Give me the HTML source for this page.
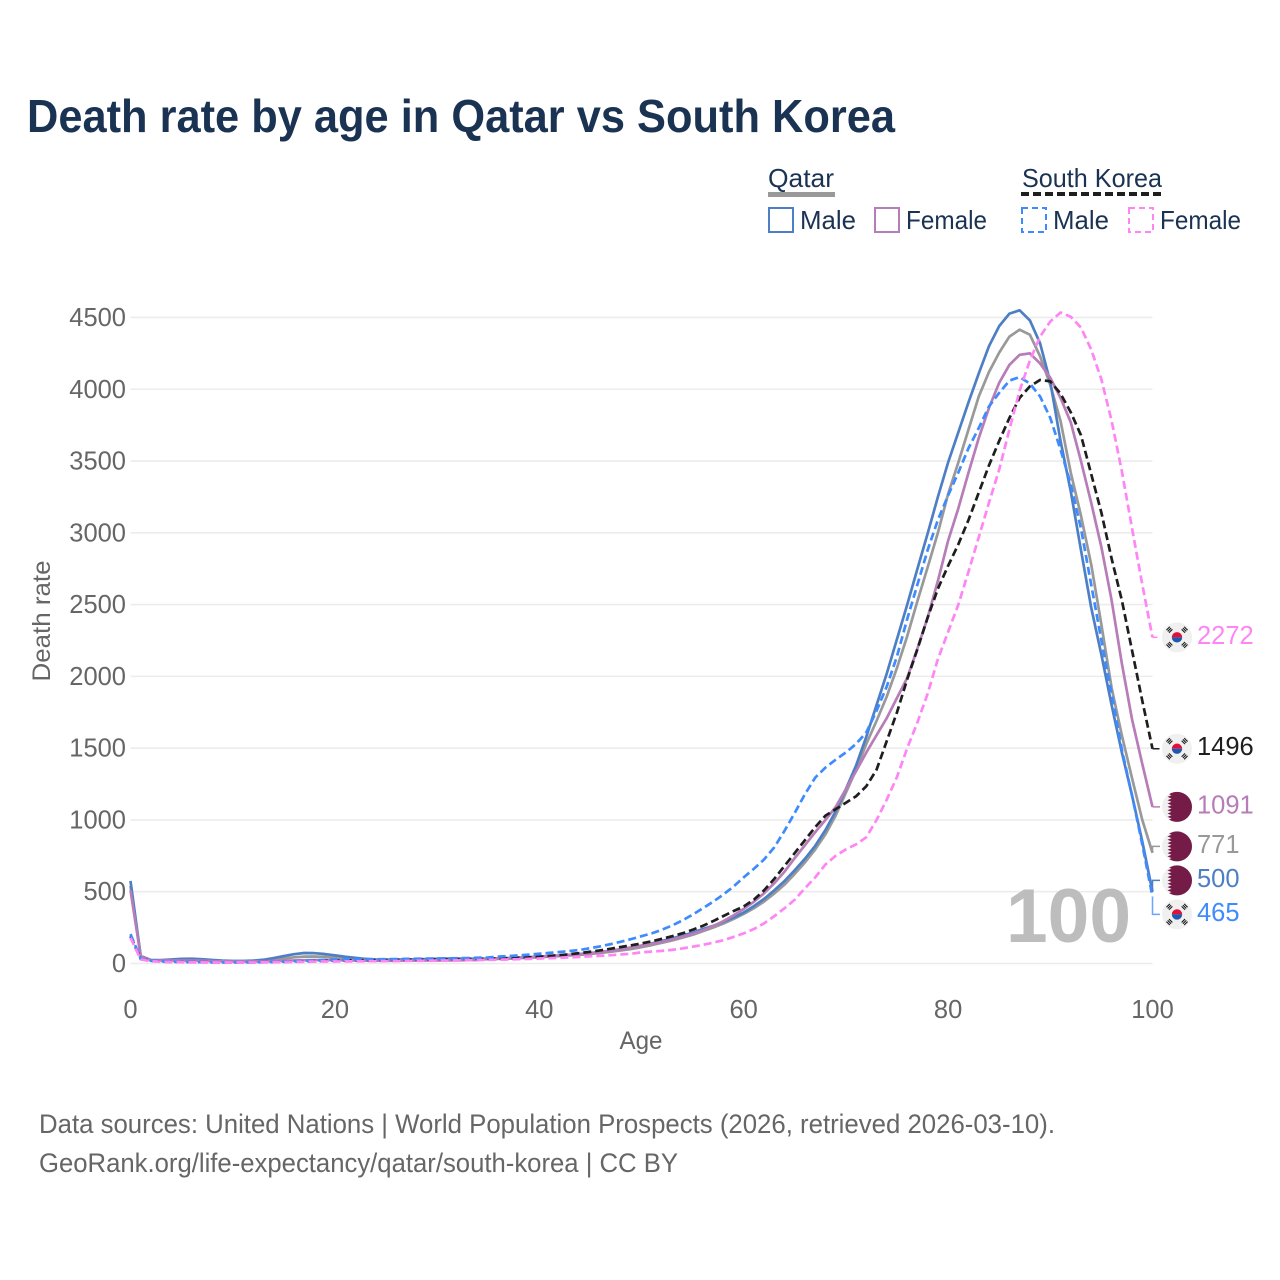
<!DOCTYPE html>
<html>
<head>
<meta charset="utf-8">
<title>Death rate by age in Qatar vs South Korea</title>
<style>
html,body{margin:0;padding:0;background:#fff;}
svg{display:block;}
text{font-family:"Liberation Sans",sans-serif;}
</style>
</head>
<body>
<svg id="chart" width="1280" height="1280" viewBox="0 0 1280 1280" xmlns="http://www.w3.org/2000/svg">
  <text x="27" y="132" font-size="46" font-weight="700" fill="#1b3353" textLength="868" lengthAdjust="spacingAndGlyphs">Death rate by age in Qatar vs South Korea</text>

  <g fill="#1b3353" font-size="26">
    <text x="768" y="187" textLength="66" lengthAdjust="spacingAndGlyphs">Qatar</text>
    <rect x="768" y="192" width="67" height="5" fill="#999999"/>
    <text x="1022" y="187" textLength="140" lengthAdjust="spacingAndGlyphs">South Korea</text>
    <line x1="1021" y1="194" x2="1162" y2="194" stroke="#1e1e1e" stroke-width="4" stroke-dasharray="8 4"/>
    <rect x="769" y="208" width="24" height="24" fill="none" stroke="#4e7fc4" stroke-width="2"/>
    <text x="800" y="229" textLength="56" lengthAdjust="spacingAndGlyphs">Male</text>
    <rect x="875" y="208" width="24" height="24" fill="none" stroke="#b77db8" stroke-width="2"/>
    <text x="906" y="229" textLength="81" lengthAdjust="spacingAndGlyphs">Female</text>
    <rect x="1022" y="208" width="24" height="24" fill="none" stroke="#3e8bff" stroke-width="2" stroke-dasharray="6 4"/>
    <text x="1053" y="229" textLength="56" lengthAdjust="spacingAndGlyphs">Male</text>
    <rect x="1129" y="208" width="24" height="24" fill="none" stroke="#ff85f5" stroke-width="2" stroke-dasharray="6 4"/>
    <text x="1160" y="229" textLength="81" lengthAdjust="spacingAndGlyphs">Female</text>
  </g>

  <g id="grid"></g>
  <g id="yticks"></g>
  <g id="xticks"></g>

  <text x="641" y="1049" font-size="25" fill="#666666" text-anchor="middle" textLength="43" lengthAdjust="spacingAndGlyphs">Age</text>
  <text transform="translate(50 621) rotate(-90)" font-size="25" fill="#666666" text-anchor="middle" textLength="121" lengthAdjust="spacingAndGlyphs">Death rate</text>

  <text id="year" x="1131" y="942" font-size="76" font-weight="700" fill="#bdbdbd" text-anchor="end" textLength="125" lengthAdjust="spacingAndGlyphs">100</text>

  <g id="series"></g>
  <g id="endlabels"></g>

  <g fill="#666666" font-size="27">
    <text x="39" y="1133" textLength="1016" lengthAdjust="spacingAndGlyphs">Data sources: United Nations | World Population Prospects (2026, retrieved 2026-03-10).</text>
    <text x="39" y="1172" textLength="639" lengthAdjust="spacingAndGlyphs">GeoRank.org/life-expectancy/qatar/south-korea | CC BY</text>
  </g>
</svg>

<script>
var yTickValues = [0, 500, 1000, 1500, 2000, 2500, 3000, 3500, 4000, 4500];
var xTickValues = [0, 20, 40, 60, 80, 100];

var qatarTotal = [540,50,23,22,24,26,26,24,21,18,16,16,17,20,27,35,43,48,49,46,41,36,30,27,24,23,23,24,25,26,27,28,28,28,29,30,32,34,37,40,44,
48,52,56,61,67,74,82,91,101,114,128,144,161,180,200,225,250,278,310,345,385,432,488,550,625,705,795,900,1030,
1190,1350,1530,1690,1860,2060,2280,2525,2760,3000,3270,3490,3720,3950,4120,4255,4367,4415,4380,4230,4030,3780,3420,3120,2780,2360,1920,1590,1290,1000,771];

var qatarMale = [575,52,24,24,28,32,33,30,25,20,18,18,20,26,38,52,65,73,72,66,57,47,39,32,28,27,27,28,30,31,33,34,34,33,33,34,36,38,41,44,48,
52,55,60,66,73,80,90,100,112,125,140,157,175,195,215,240,262,290,320,355,400,450,510,575,650,730,820,930,1060,
1215,1380,1580,1800,2020,2260,2500,2750,2995,3250,3490,3700,3910,4110,4300,4440,4527,4550,4480,4320,4050,3640,3290,2880,2480,2150,1800,1470,1170,850,500];

var qatarFemale = [510,48,22,20,20,20,20,19,17,15,14,14,14,15,17,19,21,23,24,24,23,22,21,20,19,19,19,20,20,21,21,22,22,23,24,33,35,37,40,44,48,
52,56,60,66,72,80,89,99,111,125,137,150,167,186,206,230,260,295,335,380,430,490,560,640,735,825,915,1000,1090,
1215,1340,1470,1590,1710,1850,1990,2195,2410,2665,2945,3170,3420,3660,3870,4045,4170,4240,4250,4180,4080,3940,3770,3500,3210,2900,2530,2090,1700,1390,1091];

var koreaTotal = [190,32,18,14,11,10,9,9,8,8,8,8,8,9,10,11,13,15,17,19,20,21,22,22,23,24,25,26,26,27,28,29,30,31,32,33,35,37,40,43,47,
52,58,65,73,82,92,103,115,127,140,155,172,190,210,235,262,295,330,365,397,445,510,590,680,770,860,950,1030,1075,
1120,1165,1235,1350,1550,1750,1980,2190,2410,2610,2770,2920,3090,3280,3470,3640,3800,3940,4020,4065,4055,3970,3840,3680,3410,3140,2820,2530,2180,1830,1496];

var koreaMale = [205,33,19,15,12,11,10,9,9,8,8,8,9,10,11,13,16,19,22,24,26,27,28,29,30,30,31,32,33,34,35,36,37,38,40,42,48,52,56,62,68,
74,80,87,95,107,120,135,152,170,190,210,235,265,300,340,385,430,480,536,600,660,725,810,925,1050,1180,1295,1365,1420,
1470,1530,1610,1760,1930,2140,2400,2640,2880,3090,3260,3420,3590,3730,3880,3975,4060,4085,4040,3950,3800,3580,3340,3030,2640,2250,1880,1490,1170,830,465];

var koreaFemale = [180,28,16,12,10,9,8,8,7,7,7,7,7,8,9,10,11,12,13,14,14,15,15,16,16,17,17,18,19,19,20,21,22,23,24,25,27,28,30,32,35,
37,40,43,46,50,54,58,63,68,78,83,88,95,105,117,130,145,162,185,210,240,280,330,385,445,525,600,690,750,
795,830,880,1000,1142,1300,1500,1680,1880,2120,2310,2500,2730,2970,3210,3440,3720,3990,4200,4367,4472,4535,4505,4430,4277,4068,3780,3430,3030,2640,2272];

var seriesOrder = [
  {name:'qatar-total',       values:qatarTotal,  color:'#999999', dash:null,  label:'#999999', flag:'qatar', lead:'#999999'},
  {name:'qatar-male',        values:qatarMale,   color:'#4e7fc4', dash:null,  label:'#4e7fc4', flag:'qatar', lead:'#4e7fc4'},
  {name:'qatar-female',      values:qatarFemale, color:'#b77db8', dash:null,  label:'#b77db8', flag:'qatar', lead:'#b77db8'},
  {name:'south-korea-total', values:koreaTotal,  color:'#1e1e1e', dash:'8 4', label:'#1e1e1e', flag:'korea', lead:'#1e1e1e'},
  {name:'south-korea-male',  values:koreaMale,   color:'#3e8bff', dash:'8 4', label:'#3e8bff', flag:'korea', lead:'#6aa5ff'},
  {name:'south-korea-female',values:koreaFemale, color:'#ff85f5', dash:'8 4', label:'#ff85f5', flag:'korea', lead:'#ff85f5'}
];

var NS = 'http://www.w3.org/2000/svg';
function make(tag, attrs, parent) {
  var el = document.createElementNS(NS, tag);
  for (var k in attrs) el.setAttribute(k, attrs[k]);
  parent.appendChild(el);
  return el;
}
function xScale(age) { return 130.5 + age * 10.22; }
function yScale(v) { return 963.5 - v * 0.14356; }

var grid = document.getElementById('grid');
var yticks = document.getElementById('yticks');
var xticks = document.getElementById('xticks');
yTickValues.forEach(function (v) {
  var line = make('line', {x1: xScale(0), x2: xScale(100), y1: yScale(v), y2: yScale(v), stroke: '#ececec', 'stroke-width': 1.6}, grid);
  
  
  var t = make('text', {x: 126, y: yScale(v) + 8.5, 'text-anchor': 'end', 'font-size': 25.5, fill: '#666666'}, yticks);
  t.textContent = v;
  
  
});
xTickValues.forEach(function (v) {
  var t = make('text', {x: xScale(v), y: 1018, 'text-anchor': 'middle', 'font-size': 25.5, fill: '#666666'}, xticks);
  t.textContent = v;
  
  
});

var seriesGroup = document.getElementById('series');
seriesOrder.forEach(function (s) {
  var d = s.values.map(function (v, i) {
    return (i ? 'L' : 'M') + xScale(i).toFixed(2) + ' ' + yScale(v).toFixed(2);
  }).join('');
  var attrs = {d: d, fill: 'none', stroke: s.color, 'stroke-width': 2.7, 'stroke-linejoin': 'round'};
  if (s.dash) attrs['stroke-dasharray'] = s.dash;
  var p = make('path', attrs, seriesGroup);
  
  
});

/* end labels: dodge overlapping labels by merging clusters around their mean */
var MIN_GAP = 34;
var ends = seriesOrder.map(function (s) {
  var v = s.values[s.values.length - 1];
  return {s: s, v: v, y: yScale(v)};
}).sort(function (a, b) { return a.y - b.y; });
var clusters = ends.map(function (e) { return {items: [e], sum: e.y}; });
var merged = true;
while (merged) {
  merged = false;
  for (var i = 0; i < clusters.length - 1; i++) {
    var a = clusters[i], b = clusters[i + 1];
    var aMean = a.sum / a.items.length, bMean = b.sum / b.items.length;
    var aBottom = aMean + (a.items.length - 1) * MIN_GAP / 2;
    var bTop = bMean - (b.items.length - 1) * MIN_GAP / 2;
    if (bTop - aBottom < MIN_GAP) {
      clusters.splice(i, 2, {items: a.items.concat(b.items), sum: a.sum + b.sum});
      merged = true;
      break;
    }
  }
}
clusters.forEach(function (c) {
  var mean = c.sum / c.items.length;
  c.items.forEach(function (e, i) {
    e.ly = mean + (i - (c.items.length - 1) / 2) * MIN_GAP;
  });
});

var labels = document.getElementById('endlabels');
var defs = make('defs', {}, labels);
ends.forEach(function (e, idx) {
  var cx = 1177, cy = e.ly, x0 = xScale(100);
  var g = make('g', {}, labels);
  
  

  var leadAttrs = {d: 'M' + x0 + ' ' + e.y + 'L' + x0 + ' ' + cy + 'L1160 ' + cy, fill: 'none', stroke: e.s.lead, 'stroke-width': 1.5};
  if (e.s.dash && e.s.name !== 'south-korea-male') leadAttrs['stroke-dasharray'] = e.s.name === 'south-korea-total' ? '7 2' : '5 3';
  var lead = make('path', leadAttrs, g);
  
  

  var flag = make('g', {}, g);
  
  
  make('circle', {cx: cx, cy: cy, r: 15, fill: '#f0f0f0'}, flag);

  if (e.s.flag === 'qatar') {
    var clipId = 'clip-' + idx;
    var clip = make('clipPath', {id: clipId}, defs);
    make('circle', {cx: cx, cy: cy, r: 15}, clip);
    var pts = [[cx + 16, cy - 16], [cx - 6, cy - 16]];
    for (var t = 0; t < 9; t++) {
      var top = cy - 15 + t * 30 / 9;
      pts.push([cx - 9.5, top + 30 / 18]);
      pts.push([cx - 5.5, top + 30 / 9]);
    }
    pts.push([cx - 6, cy + 16], [cx + 16, cy + 16]);
    make('polygon', {points: pts.map(function (q) { return q[0].toFixed(1) + ',' + q[1].toFixed(1); }).join(' '), fill: '#741b47', 'clip-path': 'url(#' + clipId + ')'}, flag);
  } else {
    make('path', {d: 'M' + (cx - 5.2) + ' ' + cy + 'A5.2 5.2 0 0 1 ' + (cx + 5.2) + ' ' + cy + 'Z', fill: '#e0103a'}, flag);
    make('path', {d: 'M' + (cx - 5.2) + ' ' + cy + 'A5.2 5.2 0 0 0 ' + (cx + 5.2) + ' ' + cy + 'Z', fill: '#1a5bb0'}, flag);
    [[-1, -1, -45], [1, -1, 45], [-1, 1, 45], [1, 1, -45]].forEach(function (q) {
      var bx = cx + q[0] * 7.6, by = cy + q[1] * 7.6;
      [-1.8, 0, 1.8].forEach(function (o) {
        make('rect', {x: bx - 2.4, y: by + o - 0.55, width: 4.8, height: 1.1, fill: '#1a1a1a', transform: 'rotate(' + q[2] + ' ' + bx + ' ' + by + ')'}, flag);
      });
    });
  }

  var t2 = make('text', {x: 1197, y: cy + 6.5, 'font-size': 25.5, fill: e.s.label}, g);
  t2.textContent = e.v;
  
  
});
</script>
</body>
</html>
